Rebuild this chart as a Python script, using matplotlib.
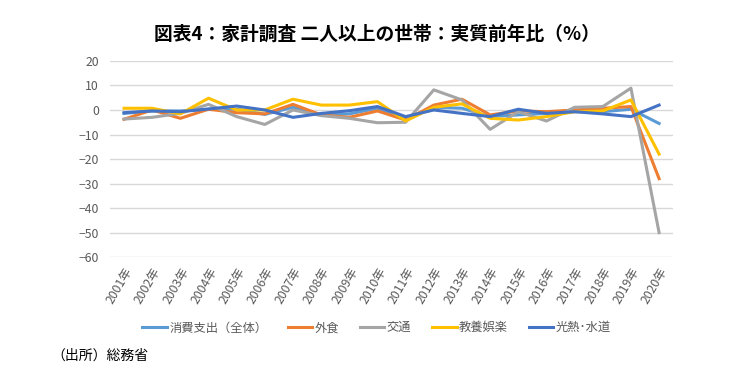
import matplotlib.pyplot as plt

plt.rcParams['font.family'] = ['Noto Sans CJK JP', 'DejaVu Sans']

years = [f"{y}年" for y in range(2001, 2021)]

total = [-1.4, -0.4, -0.4, 0.3, 0.3, -1.8, 1.1, -2.0, -1.6, 0.7,
         -3.4, 1.1, 0.7, -2.7, -2.0, -1.4, -0.7, -0.7, 0.3, -5.5]
eating_out = [-3.8, 0.0, -3.4, 0.3, -1.1, -1.6, 2.3, -2.0, -3.0, -0.4,
              -4.1, 2.0, 4.4, -2.0, -0.4, -0.7, 0.0, 0.7, 1.4, -28.0]
transport = [-3.7, -3.0, -1.4, 2.3, -2.7, -5.9, 0.0, -2.3, -3.4, -5.2,
             -5.0, 8.2, 4.1, -7.9, -0.7, -4.5, 1.1, 1.4, 8.9, -50.0]
culture = [0.7, 0.7, -1.6, 4.8, 0.0, 0.0, 4.4, 2.0, 2.0, 3.4,
           -4.5, 1.1, 2.5, -3.4, -4.1, -2.7, -0.7, -0.4, 4.1, -18.0]
utilities = [-1.1, -0.4, -0.7, 0.4, 1.6, 0.0, -3.0, -1.4, -0.3, 1.4,
             -2.7, 0.0, -1.4, -2.7, 0.3, -1.4, -0.7, -1.6, -2.7, 2.0]

series = [
    ("消費支出（全体）", total, "#5B9BD5"),
    ("外食", eating_out, "#ED7D31"),
    ("交通", transport, "#A5A5A5"),
    ("教養娯楽", culture, "#FFC000"),
    ("光熱･水道", utilities, "#4472C4"),
]

fig = plt.figure(figsize=(7.53, 3.76), dpi=100)
ax = fig.add_axes([0.146, 0.316, 0.748, 0.522])

x = range(len(years))
for name, vals, col in series:
    ax.plot(x, vals, color=col, lw=2.2, label=name)

ax.set_xlim(-0.5, len(years) - 0.5)
ax.set_ylim(-60, 20)
ax.set_yticks(range(-60, 21, 10))
ax.set_xticks(list(x))
ax.set_xticklabels(years, rotation=60, ha="right", rotation_mode="anchor")
ax.tick_params(axis="both", length=0, labelsize=8.8, colors="#595959")
ax.tick_params(axis="y", pad=8)
ax.tick_params(axis="x", pad=6)
ax.grid(axis="y", color="#D9D9D9", lw=1)
ax.set_axisbelow(True)
for s in ax.spines.values():
    s.set_visible(False)

fig.text(0.5, 0.91, "図表4：家計調査 二人以上の世帯：実質前年比（%）",
         ha="center", va="center", fontsize=13.5, fontweight="bold")
fig.legend(loc="center", bbox_to_anchor=(0.5, 0.128), ncol=5, frameon=False,
           fontsize=8.8, handlelength=2.0, handletextpad=0.2, columnspacing=1.7,
           labelcolor="#595959")
fig.text(0.068, 0.055, "（出所）総務省", ha="left", va="center", fontsize=10)

fig.savefig("out.png", dpi=100)
